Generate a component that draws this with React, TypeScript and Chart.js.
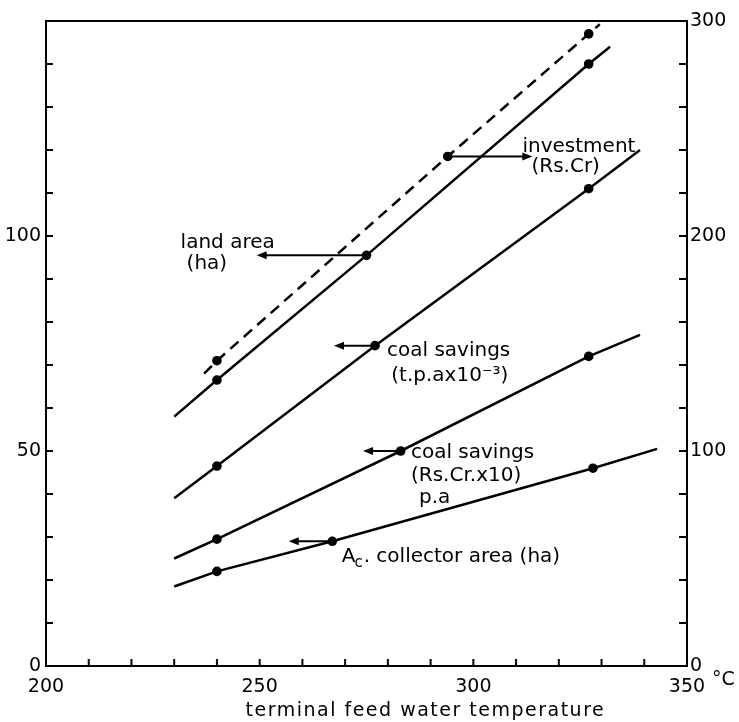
import React, { useEffect, useRef } from 'react';
import { Chart, registerables } from 'chart.js';

Chart.register(...registerables);

// ---- data (terminal feed water temperature in °C) ----
const X_TICK_LABELS = [200, 250, 300, 350];
const LEFT_TICK_LABELS = [0, 50, 100];
const RIGHT_TICK_LABELS = [0, 100, 200, 300];

// investment (Rs.Cr) – right axis, dashed
const investmentT = [237, 240, 294, 327, 329.6];
const investmentRsCr = [136, 142, 237, 294, 298.5];
// land area (ha) – left axis
const landAreaT = [230, 240, 275, 327, 332];
const landAreaHa = [58, 66.5, 95.5, 140, 144];
// coal savings (t.p.a x10^-3) – left axis
const coalTpaT = [230, 240, 277, 327, 339];
const coalTpa = [39, 46.5, 74.5, 111, 120];
// coal savings (Rs.Cr x10) p.a – left axis
const coalRsT = [230, 240, 283, 327, 339];
const coalRs = [25, 29.5, 50, 72, 77];
// Ac collector area (ha) – left axis
const collectorT = [230, 240, 267, 328, 343];
const collectorHa = [18.5, 22, 29, 46, 50.5];

const ANNOT_FONT = '20px "DejaVu Sans"';
const TICK_FONT = { family: 'DejaVu Sans', size: 19 };

function series(label: string, ts: number[], vs: number[], axis: string, dashed: boolean) {
  return {
    label,
    data: ts.map((t, i) => ({ x: t, y: vs[i] })),
    yAxisID: axis,
    borderColor: '#000',
    backgroundColor: '#000',
    borderWidth: 2.5,
    borderDash: dashed ? [11, 7] : [],
    pointRadius: (c: any) => (c.dataIndex === 0 || c.dataIndex === ts.length - 1 ? 0 : 4.8),
    pointBorderWidth: 0,
    pointHoverRadius: 0,
    tension: 0,
    fill: false,
  };
}

function drawArrow(ctx: CanvasRenderingContext2D, x1: number, y1: number, x2: number, y2: number) {
  const ang = Math.atan2(y2 - y1, x2 - x1);
  const len = 10, hw = 4;
  ctx.beginPath();
  ctx.moveTo(x1, y1);
  ctx.lineTo(x2 - Math.cos(ang) * len * 0.6, y2 - Math.sin(ang) * len * 0.6);
  ctx.stroke();
  ctx.beginPath();
  ctx.moveTo(x2, y2);
  ctx.lineTo(x2 - Math.cos(ang) * len - Math.sin(ang) * hw, y2 - Math.sin(ang) * len + Math.cos(ang) * hw);
  ctx.lineTo(x2 - Math.cos(ang) * len + Math.sin(ang) * hw, y2 - Math.sin(ang) * len - Math.cos(ang) * hw);
  ctx.closePath();
  ctx.fill();
}

const overlay = {
  id: 'overlay',
  afterDatasetsDraw(chart: any) {
    const { ctx, chartArea: a, scales } = chart;
    const x = scales.x, y = scales.y, y2 = scales.y2;
    ctx.save();
    ctx.strokeStyle = '#000';
    ctx.fillStyle = '#000';
    ctx.lineWidth = 2;
    ctx.setLineDash([]);
    // frame
    ctx.strokeRect(a.left, a.top, a.right - a.left, a.bottom - a.top);
    // inward tick marks
    ctx.beginPath();
    for (let t = 200; t <= 350; t += 10) {
      const px = x.getPixelForValue(t);
      ctx.moveTo(px, a.bottom);
      ctx.lineTo(px, a.bottom - 7);
    }
    for (let v = 0; v <= 150; v += 10) {
      const py = y.getPixelForValue(v);
      ctx.moveTo(a.left, py);
      ctx.lineTo(a.left + 7, py);
    }
    for (let v = 0; v <= 300; v += 20) {
      const py = y2.getPixelForValue(v);
      ctx.moveTo(a.right, py);
      ctx.lineTo(a.right - 8, py);
    }
    ctx.stroke();

    // arrows (from a marked point to its label, pointing to the axis used)
    const P = (t: number, v: number, s: any) => [x.getPixelForValue(t), s.getPixelForValue(v)];
    ctx.lineWidth = 2;
    const arrows: [number, number, any, number][] = [
      [294, 237, y2, 313.8],
      [275, 95.5, y, 249.3],
      [277, 74.5, y, 267.4],
      [283, 50, y, 274.2],
      [267, 29, y, 256.8],
    ];
    arrows.forEach(([t, v, s, tEnd]) => {
      const [x1, y1] = P(t, v, s);
      drawArrow(ctx, x1, y1, x.getPixelForValue(tEnd), y1);
    });

    // label texts
    ctx.font = ANNOT_FONT;
    ctx.textAlign = 'left';
    ctx.textBaseline = 'alphabetic';
    const texts: [string, number, number][] = [
      ['investment', 311.5, 119.5],
      ['(Rs.Cr)', 313.6, 114.9],
      ['land area', 231.5, 97.2],
      ['(ha)', 232.9, 92.3],
      ['coal savings', 279.8, 72.1],
      ['(t.p.ax10⁻³)', 280.8, 66.3],
      ['coal savings', 285.4, 48.4],
      ['(Rs.Cr.x10)', 285.4, 43.0],
      ['p.a', 287.3, 37.9],
    ];
    texts.forEach(([s, t, v]) => {
      const [px, py] = P(t, v, y);
      ctx.fillText(s, px, py);
    });
    // A_c . collector area (ha)
    {
      const [px, py] = P(269.2, 24.2, y);
      ctx.font = ANNOT_FONT;
      ctx.fillText('A', px, py);
      const wA = ctx.measureText('A').width;
      ctx.font = '15px "DejaVu Sans"';
      ctx.fillText('c', px + wA - 1, py + 5);
      const wc = ctx.measureText('c').width;
      ctx.font = ANNOT_FONT;
      ctx.fillText('. collector area (ha)', px + wA + wc, py);
    }

    // unit and axis title
    ctx.font = '19px "DejaVu Sans"';
    ctx.fillText('°C', x.getPixelForValue(350) + 25, a.bottom + 19);
    ctx.font = '19px "DejaVu Sans"';
    (ctx as any).letterSpacing = '1.5px';
    ctx.fillText('terminal feed water temperature', x.getPixelForValue(246.7), a.bottom + 50);
    (ctx as any).letterSpacing = '0px';
    ctx.restore();
  },
};

export default function App() {
  const ref = useRef<HTMLCanvasElement | null>(null);
  useEffect(() => {
    if (!ref.current) return;
    const chart = new Chart(ref.current, {
      type: 'line',
      data: {
        datasets: [
          series('investment (Rs.Cr)', investmentT, investmentRsCr, 'y2', true),
          series('land area (ha)', landAreaT, landAreaHa, 'y', false),
          series('coal savings (t.p.a x10⁻³)', coalTpaT, coalTpa, 'y', false),
          series('coal savings (Rs.Cr x10) p.a', coalRsT, coalRs, 'y', false),
          series('Ac collector area (ha)', collectorT, collectorHa, 'y', false),
        ] as any,
      },
      options: {
        animation: false,
        responsive: false,
        devicePixelRatio: 1,
        color: '#000',
        layout: { padding: { top: 21, left: 0, right: 0, bottom: 0 } },
        plugins: { legend: { display: false }, tooltip: { enabled: false } },
        scales: {
          x: {
            type: 'linear',
            min: 200,
            max: 350,
            afterBuildTicks: (s: any) => { s.ticks = X_TICK_LABELS.map((v) => ({ value: v })); },
            afterFit: (s: any) => { s.height = 56; },
            grid: { display: false, drawTicks: false },
            border: { display: false },
            ticks: { color: '#000', font: TICK_FONT, padding: 10, maxRotation: 0, autoSkip: false },
          },
          y: {
            type: 'linear',
            position: 'left',
            min: 0,
            max: 150,
            afterBuildTicks: (s: any) => { s.ticks = LEFT_TICK_LABELS.map((v) => ({ value: v })); },
            afterFit: (s: any) => { s.width = 46; },
            grid: { display: false, drawTicks: false },
            border: { display: false },
            ticks: { color: '#000', font: TICK_FONT, padding: 5, autoSkip: false },
          },
          y2: {
            type: 'linear',
            position: 'right',
            min: 0,
            max: 300,
            afterBuildTicks: (s: any) => { s.ticks = RIGHT_TICK_LABELS.map((v) => ({ value: v })); },
            afterFit: (s: any) => { s.width = 52; },
            grid: { display: false, drawTicks: false },
            border: { display: false },
            ticks: { color: '#000', font: TICK_FONT, padding: 3, autoSkip: false },
          },
        },
      } as any,
      plugins: [overlay],
    });
    return () => chart.destroy();
  }, []);
  return (
    <div style={{ position: 'fixed', left: 0, top: 0, width: 739, height: 722, background: '#fff' }}>
      <canvas ref={ref} width={739} height={722} style={{ display: 'block' }} />
    </div>
  );
}
